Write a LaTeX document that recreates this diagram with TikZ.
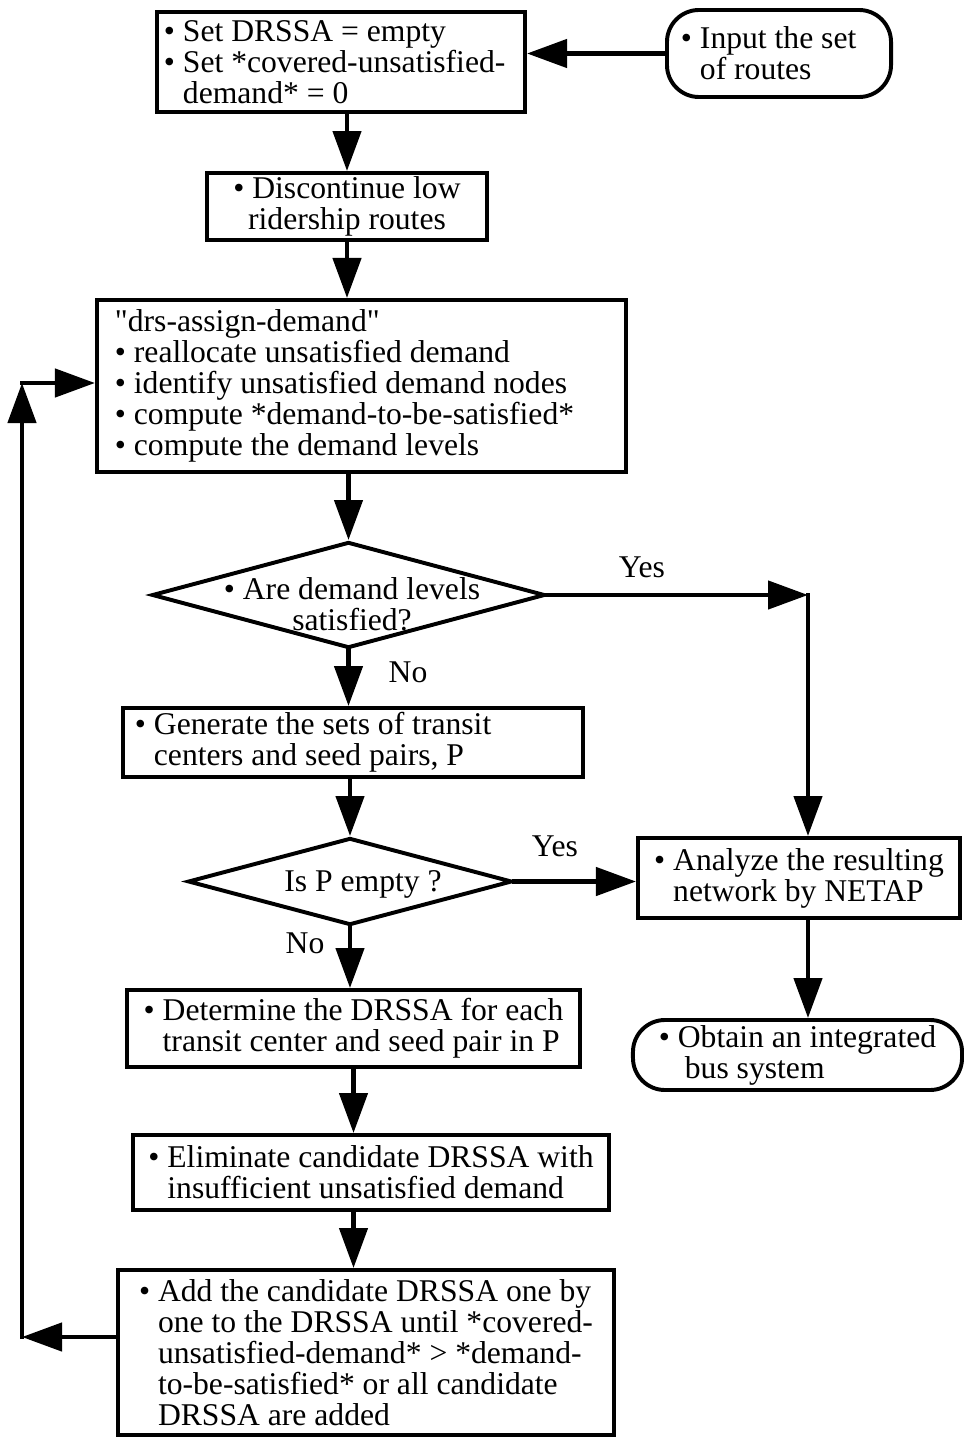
\documentclass[tikz,border=0pt]{standalone}
\usepackage{fontspec}
\setmainfont{Liberation Serif}
\usetikzlibrary{shapes.geometric,arrows.meta,positioning,calc}

\newcommand{\flowfont}{\fontsize{22.5}{22}\selectfont}
\newcommand{\bitem}{\textbullet\ }
\newcommand{\bskip}{\phantom{\textbullet\ }}

\tikzset{
  box/.style={draw, line width=2.8pt, font=\flowfont, align=left, inner xsep=0pt, inner ysep=0pt,
    execute at begin node={\spaceskip=0pt\xspaceskip=0pt\relax}},
  rbox/.style={box, rounded corners=0.8cm},
  decision/.style={draw, diamond, line width=2.8pt, inner sep=0pt},
  flow/.style={line width=3.2pt, line cap=rect, -{Triangle[length=1cm,width=0.7cm]}},
  lbl/.style={font=\flowfont, inner sep=0pt}
}

\begin{document}
\begin{tikzpicture}[x=0.025cm, y=-0.025cm]
    \useasboundingbox (0,0) rectangle (964,1438);
    % main column
    \node[box, minimum width=9.2cm, minimum height=2.5cm, text width=8.85cm, inner xsep=0.175cm] (init) at (341,62)
        {\bitem Set DRSSA = empty\\ \bitem Set *covered-unsatisfied-\\ \bskip demand* = 0};
    \node[rbox, minimum width=5.6cm, minimum height=2.175cm, text width=4.9cm, inner xsep=0.35cm] (input) at (779,53.5)
        {\bitem Input the set\\ \bskip of routes};
    \node[box, align=center, minimum width=7cm, minimum height=1.675cm] (disc) at (347,206.5)
        {\bitem Discontinue low\\ ridership routes};
    \node[box, minimum width=13.225cm, minimum height=4.3cm, text width=12.325cm, inner xsep=0.45cm] (drs) at (361.5,386)
        {\textquotedbl drs-assign-demand\textquotedbl\\ \bitem reallocate unsatisfied demand\\ \bitem identify unsatisfied demand nodes\\
         \bitem compute *demand-to-be-satisfied*\\ \bitem compute the demand levels};
    \node[decision, minimum width=9.825cm, minimum height=2.65cm] (dia1) at (348.5,595) {};
    \node[lbl, align=center] (dia1t) at (352,604) {\bitem Are demand levels\\ satisfied?};
    \node[box, minimum width=11.5cm, minimum height=1.725cm, text width=10.9cm, inner xsep=0.3cm] (gen) at (353,742.5)
        {\bitem Generate the sets of transit\\ \bskip centers and seed pairs, P};
    \node[decision, minimum width=8.1cm, minimum height=2.175cm] (dia2) at (350,881.5) {};
    \node[lbl] (dia2t) at (363,884) {Is P empty ?};
    \node[box, minimum width=11.325cm, minimum height=1.925cm] (det) at (353.5,1028.5)
        {\bitem Determine the DRSSA for each\\ \bskip transit center and seed pair in P};
    \node[box, minimum width=11.9cm, minimum height=1.875cm] (elim) at (371,1172.5)
        {\bitem Eliminate candidate DRSSA with\\ \bskip insufficient unsatisfied demand};
    \node[box, minimum width=12.4cm, minimum height=4.125cm] (add) at (366,1352.5)
        {\bitem Add the candidate DRSSA one by\\ \bskip one to the DRSSA until *covered-\\
         \bskip unsatisfied-demand* > *demand-\\ \bskip to-be-satisfied* or all candidate\\ \bskip DRSSA are added};
    % right column
    \node[box, minimum width=8.05cm, minimum height=2cm] (analyze) at (799,878)
        {\bitem Analyze the resulting\\ \bskip network by NETAP};
    \node[rbox, minimum width=8.225cm, minimum height=1.75cm] (obtain) at (797.5,1055)
        {\bitem Obtain an integrated\\ \hspace*{0.65cm}bus system};
    % labels
    \node[lbl] (yes1) at (642,567) {Yes};
    \node[lbl] (no1) at (408,672) {No};
    \node[lbl] (yes2) at (555,846) {Yes};
    \node[lbl] (no2) at (305,943) {No};
    % connectors
    \coordinate (yes) at (808,595);
    \coordinate (loopb) at (22,1337);
    \coordinate (loopt) at (22,383);
    \draw[flow] (input.west) -- (input.west -| init.east);
    \draw[flow] (init.south -| disc.north) -- (disc.north);
    \draw[flow] (disc.south) -- (disc.south |- drs.north);
    \draw[flow] (drs.south -| dia1.north) -- (dia1.north);
    \draw[flow] (dia1.south) -- (dia1.south |- gen.north);
    \draw[flow] (gen.south -| dia2.north) -- (dia2.north);
    \draw[flow] (dia2.south) -- (dia2.south |- det.north);
    \draw[flow] (det.south) -- (det.south |- elim.north);
    \draw[flow] (det.south |- elim.south) -- (det.south |- add.north);
    \draw[flow] (dia1.east) -- (yes);
    \draw[flow] (yes) -- (yes |- analyze.north);
    \draw[flow] (dia2.east) -- (dia2.east -| analyze.west);
    \draw[flow] (yes |- analyze.south) -- (yes |- obtain.north);
    \draw[flow] (add.west |- loopb) -- (loopb);
    \draw[flow] (loopb) -- (loopt);
    \draw[flow] (loopt) -- (loopt -| drs.west);
\end{tikzpicture}
\end{document}
